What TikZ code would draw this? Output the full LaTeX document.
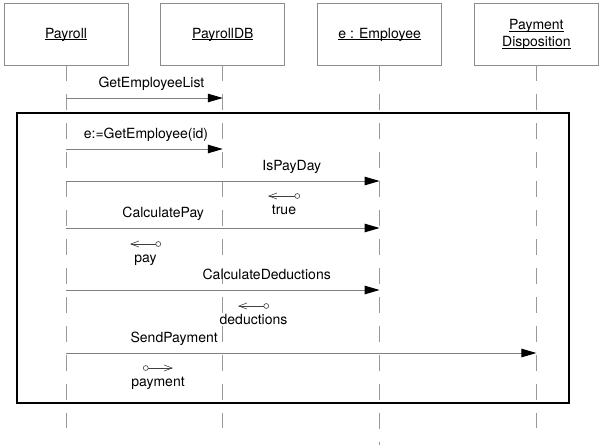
\documentclass[tikz,border=0pt]{standalone}
\usepackage{fontspec}
\setmainfont{TeX Gyre Heros}
\usepackage{tikz}
\usetikzlibrary{arrows.meta, positioning}
\definecolor{boxgray}{gray}{0.55}
\definecolor{lifegray}{gray}{0.6}
\definecolor{msggray}{gray}{0.5}
\newcommand{\objname}[1]{\underline{\raisebox{0pt}[\height][0pt]{#1}}}

\begin{document}
\begin{tikzpicture}[x=1pt, y=-1pt,
font=\fontsize{14}{17}\selectfont,
node distance=32pt,
objnode/.style={rectangle, draw=boxgray, line width=0.8pt, minimum width=124pt, minimum height=62pt},
lifeline/.style={draw=lifegray, line width=0.8pt, dash pattern=on 16pt off 13pt},
msgline/.style={draw=msggray, line width=1pt, -{Triangle[length=15pt, width=8.5pt, color=black]}},
retline/.style={draw=black!75, line width=0.6pt, {Circle[open, length=5.5pt, width=5.5pt]}-{Straight Barb[length=8pt, width=6pt]}},
framebox/.style={draw=black, line width=1.4pt},
msglabel/.style={anchor=base, yshift=11pt},
retlabel/.style={anchor=base, yshift=-18.5pt},
]
\useasboundingbox (0,0) rectangle (600,445);
%Nodes
\node[objnode] (payroll) at (66,34) {\objname{Payroll}};
\node[objnode] (payrolldb) [right=of payroll] {\objname{PayrollDB}};
\node[objnode] (employee) [right=of payrolldb] {\objname{e : Employee}};
\node[objnode, align=center] (disposition) [right=of employee] {\objname{Payment}\\\objname{Disposition}};

%Lifelines
\coordinate (lowend) at (0,428);
\coordinate (lowendE) at (0,445);
\draw[lifeline] (payroll) -- (payroll |- lowend);
\draw[lifeline] (payrolldb) -- (payrolldb |- lowend);
\draw[lifeline] (employee) -- (employee |- lowendE);
\draw[lifeline] (disposition) -- (disposition |- lowend);

%Loop frame
\draw[framebox] (17,113) rectangle (569,403);

%Messages
\coordinate (m1) at (0,98);
\coordinate (m2) at (0,149);
\coordinate (m3) at (0,181);
\coordinate (m4) at (0,228);
\coordinate (m5) at (0,290);
\coordinate (m6) at (0,353);
\draw[msgline] (payroll |- m1) -- node[msglabel, pos=0.545] {GetEmployeeList} (payrolldb |- m1);
\draw[msgline] (payroll |- m2) -- node[msglabel, pos=0.51] {e:=GetEmployee(id)} (payrolldb |- m2);
\draw[msgline] (payroll |- m3) -- node[msglabel, pos=0.72] {IsPayDay} (employee |- m3);
\draw[msgline] (payroll |- m4) -- node[msglabel, pos=0.31] {CalculatePay} (employee |- m4);
\draw[msgline] (payroll |- m5) -- node[msglabel, pos=0.64] {CalculateDeductions} (employee |- m5);
\draw[msgline] (payroll |- m6) -- node[msglabel, pos=0.23] {SendPayment} (disposition |- m6);

%Returns
\coordinate (r1) at (300,196);
\coordinate (r2) at (161,244);
\coordinate (r3) at (269,306);
\coordinate (r4) at (143,368);
\draw[retline] (r1) -- node[retlabel] {true} ++(-32,0);
\draw[retline] (r2) -- node[retlabel] {pay} ++(-31,0);
\draw[retline] (r3) -- node[retlabel] {deductions} ++(-31,0);
\draw[retline] (r4) -- node[retlabel] {payment} ++(30,0);

\end{tikzpicture}
\end{document}
